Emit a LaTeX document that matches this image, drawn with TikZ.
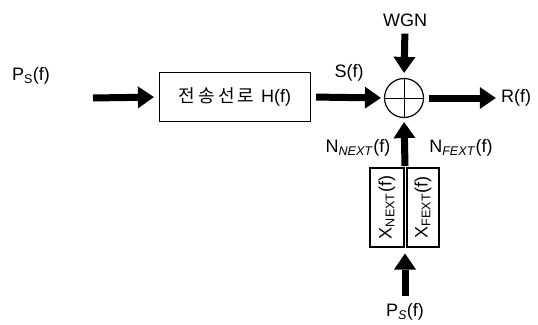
\documentclass[tikz,border=0pt]{standalone}
\usepackage{fontspec}
\setmainfont{Liberation Sans}
\newfontfamily\kor{Noto Sans CJK KR}
\usetikzlibrary{arrows.meta}

\tikzset{
  lbl/.style={font=\fontsize{18}{20}\selectfont, inner sep=1pt},
  blk/.style={lbl, draw, line width=1.2pt},
  fat/.style={line width=7pt, -{Triangle[length=16pt,width=22pt,line width=0pt]}},
}

\begin{document}
\begin{tikzpicture}[x=1pt,y=-1pt]
    \useasboundingbox (0,0) rectangle (538,324);
    % labels
    \node[lbl] (psin) at (31,76) {P\textsubscript{S}(f)};
    \node[lbl] (wgn) at (405,20) {WGN};
    \node[lbl] (sf) at (349,73) {S(f)};
    \node[lbl] (rf) at (516,98) {R(f)};
    \node[lbl] (nnext) at (358,148) {N\textsubscript{\textit{NEXT}}(f)};
    \node[lbl] (nfext) at (461,148) {N\textsubscript{\textit{FEXT}}(f)};
    \node[lbl] (psbot) at (405,312) {P\textsubscript{\textit{S}}(f)};
    % blocks
    \node[blk,minimum width=151,minimum height=49] (line) at (235,97) {{\kor\fontsize{18}{20}\selectfont 전\,송\,선\,로}\hspace{7pt}H(f)};
    \node[draw,circle,line width=1.2pt,minimum size=39] (sum) at (404,98) {};
    \draw[line width=1pt] (sum.north) -- (sum.south) (sum.west) -- (sum.east);
    \node[blk,rotate=90,minimum width=79,minimum height=34] (xnext) at (387,207.5) {X\textsubscript{NEXT}(f)};
    \node[blk,rotate=90,minimum width=79,minimum height=32] (xfext) at (423,207.5) {X\textsubscript{FEXT}(f)};
    \coordinate (in) at (93,98);
    \coordinate (xtop) at (405,166);
    \coordinate (xbot) at (405,247.5);
    % arrows
    \draw[fat,shorten >=5pt] (in) -- (line.west);
    \draw[fat,shorten <=5pt,shorten >=3pt] (line.east) -- (sum.west);
    \draw[fat,shorten <=5pt,shorten >=4pt] (sum.east) -- (sum.east-|rf.west);
    \draw[fat,shorten <=6pt,shorten >=5pt] (wgn.south) -- (sum.north);
    \draw[fat,shorten >=4pt] (xtop) -- (sum.south);
    \draw[fat,shorten <=6pt,shorten >=6pt] (psbot.north) -- (xbot);
\end{tikzpicture}
\end{document}
